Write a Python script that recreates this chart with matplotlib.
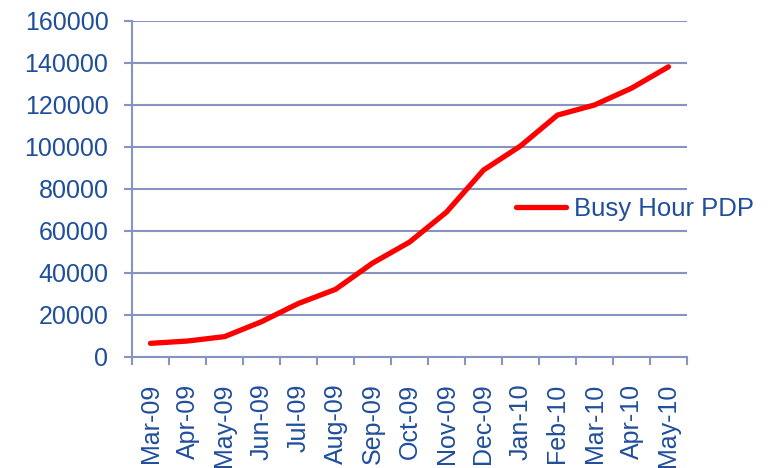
import matplotlib
matplotlib.use("Agg")
import matplotlib.pyplot as plt

months = ["Mar-09", "Apr-09", "May-09", "Jun-09", "Jul-09", "Aug-09", "Sep-09",
          "Oct-09", "Nov-09", "Dec-09", "Jan-10", "Feb-10", "Mar-10", "Apr-10", "May-10"]
busy_hour_pdp = [6500, 7600, 9700, 16800, 25500, 32200, 44700, 54700, 69000,
                 89000, 100500, 115200, 120000, 128000, 138200]
y_ticks = [0, 20000, 40000, 60000, 80000, 100000, 120000, 140000, 160000]

text_color = "#1F4E9C"
axis_color = "#8794C2"

plt.rcParams["font.family"] = ["Liberation Sans", "DejaVu Sans"]

fig = plt.figure(figsize=(7.71, 4.68), dpi=100)
ax = fig.add_axes([132 / 771, 1 - 357 / 468, (687 - 132) / 771, (357 - 21) / 468])

x = list(range(len(months)))
line, = ax.plot(x, busy_hour_pdp, color="#FF0000", lw=3.8,
                solid_capstyle="round", solid_joinstyle="round", label="Busy Hour PDP")

ax.set_xlim(-0.5, len(months) - 0.5)
ax.set_ylim(0, 160000)
ax.set_yticks(y_ticks)
ax.set_yticklabels([str(v) for v in y_ticks])
ax.yaxis.grid(True, color=axis_color, lw=1.5)
ax.set_axisbelow(True)

# category labels centred between boundary ticks
ax.set_xticks([i - 0.5 for i in range(len(months) + 1)])
ax.set_xticklabels([])
ax.set_xticks(x, minor=True)
ax.set_xticklabels(months, minor=True, rotation=90, fontsize=18, color=text_color)
ax.tick_params(axis="x", which="minor", length=0, pad=19)
ax.tick_params(axis="x", which="major", length=6, width=1.5, color=axis_color, direction="out")
ax.tick_params(axis="y", length=6, width=1.5, color=axis_color, labelsize=18,
               labelcolor=text_color, pad=11)

for side in ("top", "right"):
    ax.spines[side].set_visible(False)
ax.spines["left"].set_color(axis_color)
ax.spines["left"].set_linewidth(1.5)
ax.spines["bottom"].set_color(axis_color)
ax.spines["bottom"].set_linewidth(1.5)

leg = ax.legend(handles=[line], loc="center left", bbox_to_anchor=(516 / 771, 1 - 209 / 468),
                bbox_transform=fig.transFigure, frameon=False, fontsize=18.5,
                handlelength=1.95, handletextpad=0.3, borderaxespad=0, borderpad=0)
for t in leg.get_texts():
    t.set_color(text_color)

fig.savefig("out.png", dpi=100)
